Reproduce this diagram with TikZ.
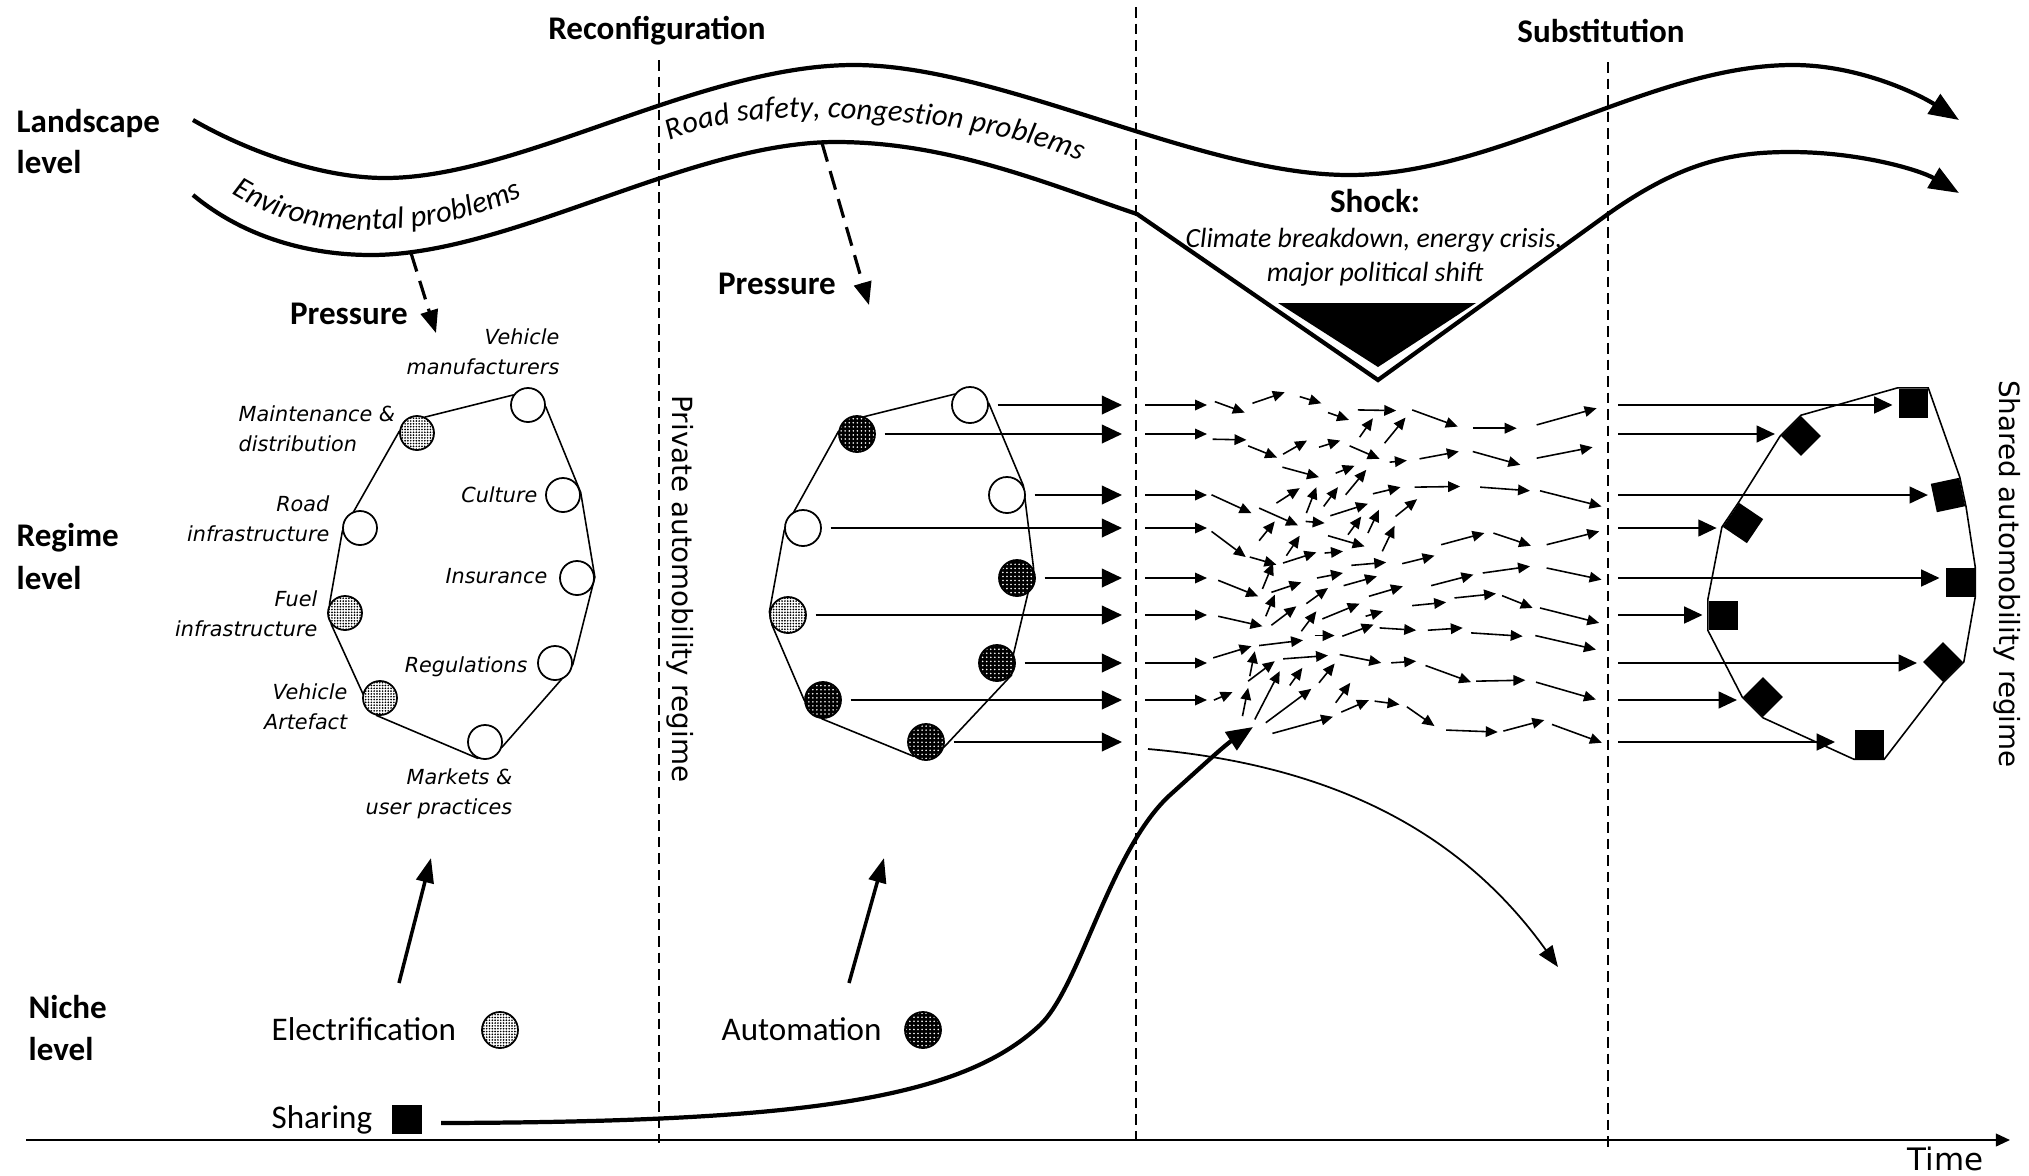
\documentclass[tikz,border=0pt]{standalone}
\usepackage{fontspec}
\setmainfont{Carlito}
\newfontfamily\dejavu{DejaVu Sans}
\usetikzlibrary{arrows.meta,decorations.text,patterns.meta}
\pgfdeclarelayer{background}
\pgfsetlayers{background,main}
\begin{document}
\begin{tikzpicture}[x=0.01cm,y=-0.01cm,
  lbl/.style={inner sep=0pt,font=\bfseries\fontsize{9.4}{11}\selectfont},
  txt/.style={inner sep=0pt,font=\fontsize{9.4}{11}\selectfont},
  itx/.style={inner sep=0pt,font=\itshape\fontsize{7.9}{9}\selectfont},
  clab/.style={inner sep=0pt,font=\dejavu\itshape\fontsize{5.9}{8.5}\selectfont},
  vtxt/.style={inner sep=0pt,font=\dejavu\fontsize{7.9}{9}\selectfont,rotate=-90},
  vdash/.style={line width=0.4pt,dash pattern=on 3pt off 1.7pt},
  land/.style={line width=1.2pt,-{Triangle[length=8.5pt,width=6.5pt]}},
  press/.style={line width=0.9pt,dash pattern=on 5.5pt off 2.8pt,-{Triangle[length=6.5pt,width=5pt]}},
  rise/.style={line width=1pt,-{Triangle[length=7pt,width=5pt]}},
  poly/.style={line width=0.45pt},
  openc/.style={circle,draw,line width=0.5pt,fill=white,minimum size=0.34cm,inner sep=0pt},
  lightc/.style={openc,preaction={fill=white},pattern={Dots[distance=0.8pt,radius=0.27pt]},pattern color=black},
  darkc/.style={openc,preaction={fill=black},pattern={Dots[distance=1.15pt,radius=0.25pt]},pattern color=white},
  blk/.style={rectangle,fill=black,minimum size=0.29cm,inner sep=0pt},
  dia/.style={blk,rotate=45,minimum size=0.28cm},
  fa/.style={line width=0.45pt,-{Triangle[length=3.4pt,width=3pt]}},
  mar/.style={line width=0.45pt,-{Triangle[length=5.7pt,width=5.3pt]}},
  rar/.style={line width=0.45pt,-{Triangle[length=5.2pt,width=4.8pt]}},
]
\useasboundingbox (0,0) rectangle (2029,1175);

% ---------- phase separators and time axis
\coordinate (v1t) at (659,60);   \coordinate (v1b) at (659,1143);
\coordinate (v2t) at (1136,7);   \coordinate (v2b) at (1136,1143);
\coordinate (v3t) at (1608,62);  \coordinate (v3b) at (1608,1150);
\draw[vdash] (v1t) -- (v1b);
\draw[vdash] (v2t) -- (v2b);
\draw[vdash] (v3t) -- (v3b);
\coordinate (t0) at (26,1140); \coordinate (t1) at (2010,1140);
\draw[line width=0.55pt,-{Triangle[length=4pt,width=3.6pt]}] (t0) -- (t1);
\node[inner sep=0pt,font=\dejavu\fontsize{8.8}{10}\selectfont,anchor=base west] (time) at (1907,1170) {Time};

% ---------- headings and levels
\node[lbl,anchor=base] (reconf) at (657,39) {Reconfiguration};
\node[lbl,anchor=base] (subst) at (1601,42) {Substitution};
\node[lbl,anchor=base west] (land1) at (16,132) {Landscape};
\node[lbl,anchor=base west] (land2) at (16,173) {level};
\node[lbl,anchor=base west] (reg1) at (16,546) {Regime};
\node[lbl,anchor=base west] (reg2) at (16,589) {level};
\node[lbl,anchor=base west] (nic1) at (28,1018) {Niche};
\node[lbl,anchor=base west] (nic2) at (28,1060) {level};

% ---------- landscape
\draw[land] (193,120) .. controls (245,150) and (320,178) .. (385,178)
  .. controls (520,178) and (700,65) .. (854,65)
  .. controls (1000,65) and (1200,175) .. (1349,175)
  .. controls (1500,175) and (1650,65) .. (1793,65)
  .. controls (1860,65) and (1920,95) .. (1959,120);
\draw[land] (193,195) .. controls (245,238) and (310,255) .. (371,255)
  .. controls (510,255) and (690,142) .. (836,142)
  .. controls (950,142) and (1050,185) .. (1137,214)
  -- (1378,380) -- (1608,214)
  .. controls (1680,163) and (1730,152) .. (1790,152)
  .. controls (1860,152) and (1920,170) .. (1959,193);
\fill (1278,303) -- (1476,303) -- (1378,367) -- cycle;
\path[decorate,decoration={text along path,text align=center,
  text={|\itshape\fontsize{8.7}{10}\selectfont|Environmental problems}}]
  (215,183) .. controls (285,232) and (340,232) .. (390,229) .. controls (445,226) and (500,210) .. (540,188);
\path[decorate,decoration={text along path,text align=center,
  text={|\itshape\fontsize{8.7}{10}\selectfont|Road safety, congestion problems}}]
  (655,148) .. controls (725,112) and (800,116) .. (870,120) .. controls (955,124) and (1040,140) .. (1095,168);
\node[lbl,anchor=base] (shock) at (1375,212) {Shock:};
\node[itx,anchor=base] (shock1) at (1374,247) {Climate breakdown, energy crisis,};
\node[itx,anchor=base] (shock2) at (1375,281) {major political shift};

% pressure
\coordinate (p1s) at (411,253); \coordinate (p1e) at (436,333);
\coordinate (p2s) at (822,143); \coordinate (p2e) at (869,305);
\draw[press] (p1s) -- (p1e);
\draw[press] (p2s) -- (p2e);
\node[lbl,anchor=base] (pr1) at (349,324) {Pressure};
\node[lbl,anchor=base] (pr2) at (777,294) {Pressure};

% ---------- left regime cluster
\node[openc] (vm) at (528,405) {};
\node[lightc] (mnt) at (417,433) {};
\node[openc] (road) at (360,528) {};
\node[lightc] (fuel) at (345,613) {};
\node[lightc] (art) at (380,698) {};
\node[openc] (mkt) at (485,742) {};
\node[openc] (reg) at (555,663) {};
\node[openc] (ins) at (577,578) {};
\node[openc] (cul) at (563,495) {};
\begin{pgfonlayer}{background}
\draw[poly] (mnt.63) -- (vm.146) -- (vm.-6) -- (cul.8) -- (ins.3) -- (reg.-5) -- (reg.-70)
  -- (mkt.-16) -- (mkt.-115) -- (art.-100) -- (art.165) -- (fuel.-140) -- (fuel.150)
  -- (road.-170) -- (road.110) -- (mnt.175) -- cycle;
\end{pgfonlayer}
\node[clab,align=right,anchor=north east] (lvm) at (560,328) {Vehicle\\manufacturers};
\node[clab,align=left,anchor=north west] (lmnt) at (238,405) {Maintenance \&\\distribution};
\node[clab,align=right,anchor=north east] (lroad) at (330,495) {Road\\infrastructure};
\node[clab,align=right,anchor=north east] (lfuel) at (318,590) {Fuel\\infrastructure};
\node[clab,align=right,anchor=north east] (lart) at (348,683) {Vehicle\\Artefact};
\node[clab,align=right,anchor=north east] (lmkt) at (513,768) {Markets \&\\user practices};
\node[clab,anchor=base east] (lcul) at (538,502) {Culture};
\node[clab,anchor=base east] (lins) at (548,583) {Insurance};
\node[clab,anchor=base east] (lreg) at (528,672) {Regulations};

\node[vtxt] (priv) at (680,589) {Private automobility regime};

% ---------- middle regime cluster
\node[openc,minimum size=0.36cm] (m1) at (970,405) {};
\node[darkc,minimum size=0.36cm] (m2) at (857,434) {};
\node[openc,minimum size=0.36cm] (m3) at (1007,495) {};
\node[openc,minimum size=0.36cm] (m4) at (803,528) {};
\node[darkc,minimum size=0.36cm] (m5) at (1017,578) {};
\node[lightc,minimum size=0.36cm] (m6) at (788,615) {};
\node[darkc,minimum size=0.36cm] (m7) at (997,663) {};
\node[darkc,minimum size=0.36cm] (m8) at (823,700) {};
\node[darkc,minimum size=0.36cm] (m9) at (926,742) {};
\begin{pgfonlayer}{background}
\draw[poly] (m2.67) -- (m1.145) -- (m1.5) -- (m3.30) -- (m5.28) -- (m7.29) -- (m7.-40)
  -- (m9.-15) -- (m9.-131) -- (m8.-93) -- (m8.180) -- (m6.-148) -- (m6.170)
  -- (m4.-173) -- (m4.118) -- (m2.173) -- cycle;
\end{pgfonlayer}
\coordinate (xr) at (1122,0);
\coordinate (xa) at (1145,0);
\coordinate (xb) at (1207,0);
\coordinate (xc) at (1618,0);
\coordinate (xe) at (1835,0);
\foreach \n in {m1,m2,m3,m4,m5,m6,m7,m8,m9}
  \draw[mar,shorten <=2.5pt] (\n.east) -- (\n.east -| xr);
\foreach \n in {m1,m2,m3,m4,m5,m6,m7,m8}
  \draw[fa] (\n.east -| xa) -- (\n.east -| xb);

% ---------- turbulent flow
\begin{scope}[shift={(1120,360)},x=0.003333cm,y=-0.003333cm]
\foreach \a/\b/\c/\d in {
 285/125/375/158, 398/130/495/97, 540/110/605/130, 625/158/688/180, 715/150/830/152,
 878/150/1015/200, 1060/205/1192/205, 1252/195/1432/145,
 278/238/380/240, 385/258/472/293, 490/283/562/242, 598/262/662/242, 690/258/780/297,
 810/307/862/302, 900/297/1018/275, 1060/275/1203/315, 1252/295/1420/262,
 720/232/760/175, 795/250/858/173, 488/322/598/352, 648/340/705/318, 678/405/740/330,
 760/402/843/382, 885/382/1022/380, 1082/382/1232/393, 1262/393/1447/440,
 275/405/395/460, 470/430/540/385, 560/460/590/382, 612/440/655/382, 418/445/535/497,
 558/485/615/490, 632/468/745/432, 685/525/725/470, 745/520/778/450, 828/470/893/418,
 275/515/378/592, 390/592/470/615, 418/543/465/485, 625/528/735/560, 788/575/825/498,
 500/588/540/528, 490/610/590/578, 615/580/670/575, 695/617/800/608, 848/612/945/588,
 965/555/1095/520, 1122/520/1235/558, 1282/555/1440/515,
 295/662/415/710, 428/688/460/610, 455/698/545/668, 592/655/670/640, 672/678/772/650,
 748/710/850/680, 935/678/1062/645, 1090/640/1232/620, 1282/625/1447/660,
 295/770/428/800, 438/770/465/705, 455/797/530/740, 560/732/625/685, 545/815/590/755,
 608/778/720/732, 738/770/790/755, 878/738/980/728, 1005/715/1130/702, 1148/708/1240/745,
 1262/745/1440/790,
 418/858/550/842, 585/828/645/828, 668/830/762/795, 780/805/890/812, 925/812/1030/805,
 1055/820/1210/830, 1248/828/1430/870,
 280/895/395/860, 390/950/405/875, 385/965/465/905, 490/898/625/888, 660/885/785/910,
 815/910/890/905, 918/918/1055/968, 1070/965/1218/962, 1250/968/1430/1020,
 282/1022/338/998, 368/1070/385/985, 405/1080/480/935, 510/978/548/925, 438/1090/575/988,
 598/970/645/912, 648/1030/692/970, 458/1122/640/1072, 665/1058/748/1022, 765/1025/840/1035,
 862/1042/945/1100, 980/1112/1135/1118, 1152/1115/1275/1082, 1298/1095/1448/1150}
  \draw[fa] (\a,\b) -- (\c,\d);
\end{scope}

% declining regime
\coordinate (decl0) at (1148,749);
\coordinate (decl1) at (1558,967);
\draw[line width=0.5pt,-{Triangle[length=6pt,width=4.6pt]}] (decl0) .. controls (1330,765) and (1460,830) .. (decl1);

% ---------- right regime cluster
\node[blk] (s1) at (1913,403) {};
\node[dia] (d2) at (1801,436) {};
\node[blk,rotate=12] (s3) at (1948,495) {};
\node[blk,rotate=-34] (d4) at (1743,523) {};
\node[blk] (s5) at (1960,582) {};
\node[blk] (s6) at (1723,615) {};
\node[dia] (d7) at (1943,662) {};
\node[dia] (d8) at (1763,697) {};
\node[blk] (s9) at (1869,744) {};
\begin{pgfonlayer}{background}
\draw[poly] (d2.north east) -- (s1.north west) -- (s1.north east) -- (s3.north east) -- (s3.south east)
  -- (s5.north east) -- (s5.south east) -- (d7.south east) -- (d7.south west)
  -- (s9.south east) -- (s9.south west) -- (d8.south west) -- (d8.north west)
  -- (s6.south west) -- (s6.north west) -- (d4.south west) -- (d4.north west) -- (d2.north west) -- cycle;
\end{pgfonlayer}
\draw[rar,shorten >=1.5pt] (m1.east -| xc) -- (m1.east -| s1.west);
\draw[rar,shorten >=1.5pt] (m2.east -| xc) -- (m2.east -| d2.north west);
\draw[rar,shorten >=1.5pt] (m3.east -| xc) -- (m3.east -| s3.west);
\draw[rar,shorten >=1.5pt] (m4.east -| xc) -- (m4.east -| d4.south west);
\draw[rar,shorten >=1.5pt] (m5.east -| xc) -- (m5.east -| s5.west);
\draw[rar,shorten >=1.5pt] (m6.east -| xc) -- (m6.east -| s6.west);
\draw[rar,shorten >=1.5pt] (m7.east -| xc) -- (m7.east -| d7.north west);
\draw[rar,shorten >=1.5pt] (m8.east -| xc) -- (m8.east -| d8.north west);
\draw[rar] (m9.east -| xc) -- (m9.east -| xe);
\node[vtxt] (shared) at (2007,574) {Shared automobility regime};

% ---------- niche level
\node[txt,anchor=base west] (el) at (271,1040) {Electrification};
\node[lightc,minimum size=0.36cm] (elc) at (500,1030) {};
\node[txt,anchor=base west] (au) at (721,1040) {Automation};
\node[darkc,minimum size=0.36cm] (auc) at (923,1030) {};
\node[txt,anchor=base west] (shl) at (271,1128) {Sharing};
\node[blk] (sh) at (407,1119) {};
\coordinate (r1s) at (399,983); \coordinate (r1e) at (431,858);
\coordinate (r2s) at (849,983); \coordinate (r2e) at (884,858);
\draw[rise] (r1s) -- (r1e);
\draw[rise] (r2s) -- (r2e);
\coordinate (shend) at (1253,727);
\draw[line width=1.2pt,-{Triangle[length=7.5pt,width=6pt]}]
  ([shift={(0.19cm,-0.04cm)}]sh.east) .. controls (800,1122) and (960,1100) .. (1040,1025)
  .. controls (1080,987) and (1110,850) .. (1170,795)
  .. controls (1200,768) and (1225,745) .. (shend);
\end{tikzpicture}
\end{document}
